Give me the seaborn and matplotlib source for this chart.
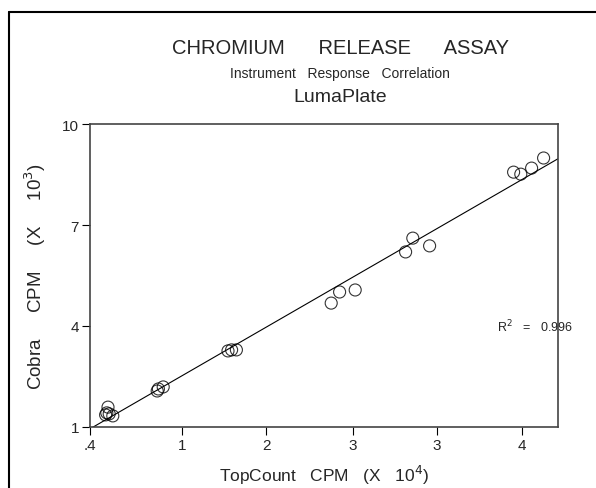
import numpy as np
import pandas as pd
import matplotlib
matplotlib.use('Agg')
import matplotlib.pyplot as plt
from matplotlib.lines import Line2D
import seaborn as sns

# TopCount CPM (x 10^4) vs Cobra CPM (x 10^3)
topcount = [0.54, 0.56, 0.53, 0.59, 0.55, 0.96, 0.97, 1.01, 1.55, 1.58, 1.62,
            2.41, 2.48, 2.61, 3.03, 3.09, 3.23, 3.93, 3.99, 4.08, 4.18]
cobra = [1.42, 1.39, 1.36, 1.33, 1.59, 2.07, 2.13, 2.19, 3.26, 3.29, 3.29,
         4.68, 5.01, 5.07, 6.20, 6.61, 6.38, 8.57, 8.51, 8.69, 8.99]
xticks = [0.4, 1.17, 1.87, 2.59, 3.29, 4.0]
xtick_labels = ['.4', '1', '2', '3', '3', '4']
yticks = [1, 4, 7, 10]
r2 = 0.996

df = pd.DataFrame({'topcount': topcount, 'cobra': cobra})

sns.set_style('white')
plt.rcParams['font.family'] = ['Liberation Sans', 'DejaVu Sans']

fig = plt.figure(figsize=(5.96, 4.89), dpi=100)
ax = fig.add_axes([90 / 596, 61 / 489, 468 / 596, 303 / 489])
ax.set_xlim(0.4, 4.3)
ax.set_ylim(1, 10)

sns.regplot(data=df, x='topcount', y='cobra', ax=ax, ci=None, truncate=False,
            scatter_kws={'facecolors': 'none', 'edgecolors': 'black', 's': 75, 'linewidths': 0.8},
            line_kws={'color': 'black', 'linewidth': 0.8})
ax.set_xlim(0.4, 4.3)
ax.set_ylim(1, 10)

ax.set_xticks(xticks)
ax.set_xticklabels(xtick_labels)
ax.set_yticks(yticks)
ax.tick_params(direction='out', length=6, width=0.8, color='black', labelsize=11, pad=2,
               bottom=True, left=True)
for s in ax.spines.values():
    s.set_color('#444444')
    s.set_linewidth(1.2)

ax.set_xlabel('TopCount   CPM   (X   10$^4$)', fontsize=12.5, labelpad=8)
ax.set_ylabel('Cobra     CPM     (X     10$^3$)', fontsize=13.5, labelpad=10)
ax.text(3.79, 4.0, 'R$^2$   =   %.3f' % r2, fontsize=9, ha='left', va='center')

fig.text(340 / 596, 1 - 48 / 489, 'CHROMIUM      RELEASE      ASSAY', fontsize=14.5, ha='center', va='center')
fig.text(340 / 596, 1 - 74 / 489, 'Instrument   Response   Correlation', fontsize=10, ha='center', va='center')
fig.text(340 / 596, 1 - 98 / 489, 'LumaPlate', fontsize=14, ha='center', va='center')

# outer frame (top and left only)
fig.add_artist(Line2D([9 / 596, 1], [1 - 13 / 489, 1 - 13 / 489], color='black', linewidth=1.5))
fig.add_artist(Line2D([9 / 596, 9 / 596], [0, 1 - 13 / 489], color='black', linewidth=1.5))

fig.savefig('out.png', dpi=100)
